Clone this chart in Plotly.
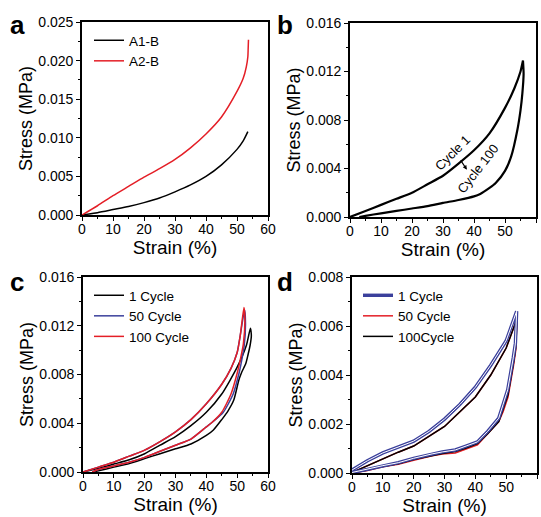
import plotly.graph_objects as go

# ---------------- data ----------------
# panel a
a1_x = [0, 5, 10, 15, 20, 25, 30, 35, 40, 45, 50, 52, 53.5]
a1_y = [0, 0.0003, 0.0007, 0.0011, 0.0016, 0.0022, 0.003, 0.0039, 0.005, 0.0065, 0.0085, 0.0096, 0.0108]
a2_x = [0, 5, 10, 15, 20, 25, 30, 35, 40, 45, 50, 52, 53, 53.5, 53.6, 53.7]
a2_y = [0, 0.0012, 0.0025, 0.0037, 0.0049, 0.006, 0.0072, 0.0087, 0.0105, 0.0127, 0.016, 0.0177, 0.0192, 0.0205, 0.0215, 0.0227]

# panel b
b_load_x = [0, 5, 10, 15, 20, 25, 30, 35, 40, 45, 50, 53, 55, 55.8]
b_load_y = [0, 0.0005, 0.001, 0.0015, 0.002, 0.0027, 0.0034, 0.0044, 0.0055, 0.0069, 0.009, 0.0106, 0.012, 0.0129]
b_unload_x = [55.8, 56, 55.6, 55, 54, 52, 50, 47, 45, 42, 40, 35, 30, 25, 20, 15, 10, 5, 3]
b_unload_y = [0.0129, 0.0118, 0.0102, 0.0088, 0.0072, 0.005, 0.0038, 0.0028, 0.0024, 0.0019, 0.0017, 0.0014, 0.00116, 0.0009, 0.0007, 0.0005, 0.0003, 0.0001, 0]

# panel c
c1_x = [0, 5, 10, 15, 20, 25, 30, 35, 40, 45, 50, 53, 54.3,
        54.6, 54.2, 53.5, 52.8, 51.5, 50.5, 48.9, 47, 45, 42.3, 40, 35, 30, 25, 20, 15, 10, 5, 3]
c1_y = [0, 0.0003, 0.00065, 0.001, 0.0015, 0.0022, 0.0029, 0.0038, 0.0049, 0.0064, 0.0086, 0.0104, 0.0118,
        0.0112, 0.0104, 0.0096, 0.0089, 0.0082, 0.0075, 0.0059, 0.005, 0.0043, 0.00345, 0.003, 0.0023, 0.0019, 0.0015, 0.0011, 0.0007, 0.0004, 0.0001, 0]
c50_x = [0, 5, 10, 15, 20, 25, 30, 35, 40, 45, 48, 50, 51, 52.4,
         52.7, 52.3, 51.5, 50.6, 48.7, 45.5, 42, 40, 35, 30, 25, 20, 15, 10, 5, 3]
c50_y = [0, 0.0004, 0.0008, 0.0013, 0.0018, 0.0025, 0.0033, 0.0043, 0.0056, 0.0072, 0.0085, 0.0098, 0.0112, 0.0133,
         0.0122, 0.0104, 0.0092, 0.0081, 0.0064, 0.0049, 0.0041, 0.0037, 0.0027, 0.0022, 0.0017, 0.0012, 0.0008, 0.0005, 0.0002, 0]
c100_x = [0, 5, 10, 15, 20, 25, 30, 35, 40, 45, 48, 50, 51, 52.2,
          52.5, 52, 51, 50, 48, 45, 42, 40, 35, 30, 25, 20, 15, 10, 5, 3]
c100_y = [0, 0.0004, 0.0008, 0.0013, 0.0018, 0.0025, 0.0033, 0.0043, 0.0056, 0.0072, 0.0085, 0.0098, 0.0112, 0.0135,
          0.0124, 0.0105, 0.0092, 0.0081, 0.0064, 0.0049, 0.0041, 0.0037, 0.0027, 0.0022, 0.0017, 0.0012, 0.0008, 0.0005, 0.0002, 0]

# panel d
d1_x = [0, 5, 10, 15, 20, 25, 30, 35, 40, 45, 50, 53.4,
        53.3, 53.0, 52.3, 51.5, 50.5, 49, 47.6, 44, 40.7, 37, 33.5, 29.3, 26, 20, 15, 10, 5, 0]
d1_y = [0.00012, 0.0005, 0.00082, 0.00105, 0.0013, 0.0017, 0.0022, 0.0028, 0.0035, 0.0044, 0.0054, 0.0066,
        0.006, 0.0053, 0.0047, 0.0041, 0.0034, 0.0028, 0.00224, 0.0017, 0.00127, 0.0011, 0.00094, 0.00086, 0.00078, 0.0006, 0.00042, 0.0003, 0.00015, 0.00002]
d50_x = [0, 5, 10, 15, 20, 25, 30, 35, 40, 45, 50, 53.5,
         53.4, 53.1, 52.4, 51.6, 50.6, 49, 47.6, 44, 40.7, 37, 33.5, 29.3, 26, 20, 15, 10, 5, 0]
d50_y = [0.00002, 0.0003, 0.0006, 0.00085, 0.0011, 0.0015, 0.0019, 0.0025, 0.0031, 0.004, 0.0051, 0.0063,
         0.0058, 0.005, 0.0044, 0.0038, 0.0031, 0.0025, 0.0021, 0.0016, 0.00115, 0.00098, 0.00082, 0.00078, 0.0007, 0.00052, 0.00036, 0.00025, 0.0001, 0]
d100_x = [0, 5, 10, 15, 20, 25, 30, 35, 40, 45, 50, 53.5,
          53.4, 53.1, 52.4, 51.6, 50.6, 49, 47.6, 44, 40.7, 37, 33.5, 29.3, 26, 20, 15, 10, 5, 0]
d100_y = [0.00002, 0.0003, 0.0006, 0.00085, 0.0011, 0.0015, 0.0019, 0.0025, 0.0031, 0.004, 0.0051, 0.0063,
          0.0058, 0.0051, 0.0045, 0.0039, 0.0032, 0.0026, 0.0021, 0.0016, 0.0012, 0.00102, 0.00088, 0.0008, 0.00072, 0.00055, 0.00038, 0.00027, 0.00012, 0]

x_ticks = [0, 10, 20, 30, 40, 50, 60]

RED = "#e41e26"
BLUE = "#3b409c"
FONT = "Liberation Sans, Arial, sans-serif"

fig = go.Figure()

SPL = dict(shape="spline", smoothing=0.6)

# a
fig.add_trace(go.Scatter(x=a1_x, y=a1_y, mode="lines", name="A1-B", line=dict(color="black", width=1.5, **SPL),
                         xaxis="x", yaxis="y", legend="legend"))
fig.add_trace(go.Scatter(x=a2_x, y=a2_y, mode="lines", name="A2-B", line=dict(color=RED, width=1.5, **SPL),
                         xaxis="x", yaxis="y", legend="legend"))
# b
fig.add_trace(go.Scatter(x=b_load_x + b_unload_x, y=b_load_y + b_unload_y, mode="lines",
                         line=dict(color="black", width=2.2, **SPL), showlegend=False, xaxis="x2", yaxis="y2"))
# c
fig.add_trace(go.Scatter(x=c1_x, y=c1_y, mode="lines", name="1 Cycle", line=dict(color="black", width=1.5, **SPL),
                         xaxis="x3", yaxis="y3", legend="legend2"))
fig.add_trace(go.Scatter(x=c50_x, y=c50_y, mode="lines", name="50 Cycle", line=dict(color=BLUE, width=1.5, **SPL),
                         xaxis="x3", yaxis="y3", legend="legend2"))
fig.add_trace(go.Scatter(x=c100_x, y=c100_y, mode="lines", name="100 Cycle", line=dict(color=RED, width=1.5, **SPL),
                         xaxis="x3", yaxis="y3", legend="legend2"))
# d
fig.add_trace(go.Scatter(x=d50_x, y=d50_y, mode="lines", name="50 Cycle", line=dict(color=RED, width=1.5),
                         xaxis="x4", yaxis="y4", legend="legend3", legendrank=2))
fig.add_trace(go.Scatter(x=d100_x, y=d100_y, mode="lines", name="100Cycle", line=dict(color="black", width=1.5),
                         xaxis="x4", yaxis="y4", legend="legend3", legendrank=3))
fig.add_trace(go.Scatter(x=d1_x, y=d1_y, mode="lines", name="1 Cycle", line=dict(color=BLUE, width=3.4),
                         xaxis="x4", yaxis="y4", legend="legend3", legendrank=1))
fig.add_trace(go.Scatter(x=d1_x, y=d1_y, mode="lines", line=dict(color="white", width=1.0),
                         showlegend=False, xaxis="x4", yaxis="y4", hoverinfo="skip"))

W, H = 541, 517


def dom(px0, px1, py0, py1):
    return [px0 / W, px1 / W], [1 - py1 / H, 1 - py0 / H]


panels = {
    "": dom(82, 268, 22, 215),
    "2": dom(350, 536, 23, 217),
    "3": dom(83, 268, 277, 472),
    "4": dom(352, 537, 277, 473),
}
yranges = {"": (0.025, 0.005, 0.0025), "2": (0.016, 0.004, 0.002),
           "3": (0.016, 0.004, 0.002), "4": (0.008, 0.002, 0.001)}

axis_common = dict(showline=True, linecolor="black", linewidth=1.6, mirror=True, ticks="outside",
                   ticklen=4, tickwidth=1.2, tickcolor="black", showgrid=False, zeroline=False,
                   tickfont=dict(size=14, color="black", family=FONT), automargin=False)

layout = dict(width=W, height=H, margin=dict(l=0, r=0, t=0, b=0), plot_bgcolor="white",
              paper_bgcolor="white", font=dict(family=FONT, color="black"))

for k, (xd, yd) in panels.items():
    top, dt, mdt = yranges[k]
    xa = "x" + k if k else "x"
    ya = "y" + k if k else "y"
    layout["xaxis" + k] = dict(domain=xd, anchor=ya, range=[0, 60], tickvals=x_ticks, ticklabelstandoff=-4,
                               minor=dict(dtick=5, ticks="outside", ticklen=2, tickcolor="black"),
                               title=dict(text="Strain (%)", font=dict(size=19), standoff=3), **axis_common)
    layout["yaxis" + k] = dict(domain=yd, anchor=xa, range=[0, top], dtick=dt, tick0=0, tickformat=".3f",
                               minor=dict(dtick=mdt, ticks="outside", ticklen=2, tickcolor="black"),
                               title=dict(text="Stress (MPa)", font=dict(size=18), standoff=1), **axis_common)

leg_common = dict(bgcolor="rgba(0,0,0,0)", font=dict(size=13.5, family=FONT, color="black"),
                  xanchor="left", yanchor="top", tracegroupgap=0, itemwidth=30)
layout["legend"] = dict(x=89 / W, y=1 - 25 / H, **leg_common)
layout["legend2"] = dict(x=89 / W, y=1 - 280 / H, **leg_common)
layout["legend3"] = dict(x=358 / W, y=1 - 280 / H, **leg_common)

fig.update_layout(**layout)

# panel letters
for txt, px, py in [("a", 17, 25), ("b", 285, 25), ("c", 17, 282), ("d", 285, 282)]:
    fig.add_annotation(text="<b>%s</b>" % txt, x=px / W, y=1 - py / H, xref="paper", yref="paper",
                       showarrow=False, font=dict(size=26, family=FONT, color="black"),
                       xanchor="center", yanchor="middle")

# panel b annotations
fig.add_annotation(text="Cycle 1", x=33.2, y=0.0053, xref="x2", yref="y2", showarrow=False,
                   textangle=-45, font=dict(size=13, family=FONT, color="black"))
fig.add_annotation(text="Cycle 100", x=41.3, y=0.0040, xref="x2", yref="y2", showarrow=False,
                   textangle=-52, font=dict(size=13, family=FONT, color="black"))
fig.add_annotation(x=37.7, y=0.0039, ax=35.4, ay=0.0048, xref="x2", yref="y2", axref="x2", ayref="y2",
                   showarrow=True, arrowhead=2, arrowsize=0.7, arrowwidth=1.2, arrowcolor="black", text="")

fig.write_html("out.html", config={"displayModeBar": False},
               post_script="document.body.style.margin='0';document.body.style.overflow='hidden';")
